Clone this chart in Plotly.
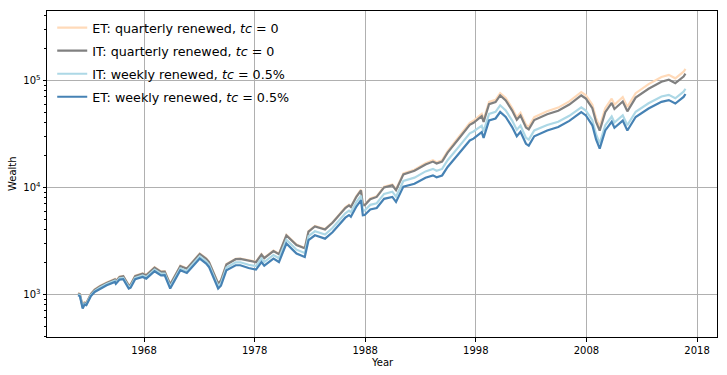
import plotly.graph_objects as go

dates = ["1962-01","1962-03","1962-06","1962-08","1962-10",
         "1963-03","1963-07","1964-01","1964-08","1965-05",
         "1965-06","1965-10","1966-02","1966-08","1966-10",
         "1967-03","1967-11","1968-03","1968-12","1969-07",
         "1969-11","1970-05","1970-12","1971-04","1971-11",
         "1973-01","1973-08","1973-11","1974-09","1974-12",
         "1975-06","1976-04","1976-09","1977-06","1978-02",
         "1978-08","1978-11","1979-09","1980-03","1980-11",
         "1981-06","1981-10","1982-07","1982-11","1983-06",
         "1984-05","1985-01","1985-06","1986-03","1986-07",
         "1986-09","1987-03","1987-08","1987-10","1987-12",
         "1988-06","1989-01","1989-09","1990-06","1990-10",
         "1991-06","1992-06","1993-06","1994-02","1994-06",
         "1994-12","1995-06","1996-06","1997-06","1997-10",
         "1998-07","1998-09","1999-03","1999-10","2000-03",
         "2000-09","2001-04","2001-09","2002-01","2002-07",
         "2002-10","2003-04","2003-10","2004-06","2005-06",
         "2006-06","2007-07","2007-12","2008-07","2008-11",
         "2009-03","2009-09","2010-04","2010-07","2011-04",
         "2011-09","2012-06","2013-08","2014-10","2015-06",
         "2016-01","2016-10","2016-12"]

et_quarterly_tc0 = [1029,1008,772,840,830, 1013,1108,1199,1287,1389,
    1332,1462,1485,1215,1237, 1491,1568,1520,1789,1636,
    1646,1244,1599,1853,1751, 2405,2163,2014,1267,1355,
    1913,2148,2158,2066,2013, 2376,2198,2560,2394,3588,
    3146,2909,2711,3894,4347, 4075,4698,5267,6482,6866,
    6623,8266,9520,6898,6922, 7866,8257,10150,10643,9583,
    13480,14570,16768,17914,17178, 17937,21818,29565,40086,41874,
    48560,42935,62920,65835,75976, 68298,55024,45187,49672,38383,
    36877,45284,47940,51515,55610, 63630,77631,72503,59303,44355,
    36978,54849,67343,59130,69762, 56474,75909,92140,107498,112521,
    104434,120435,128177]

it_quarterly_tc0 = [1019,998,764,832,822, 1003,1097,1187,1274,1375,
    1319,1447,1470,1203,1225, 1477,1553,1505,1771,1620,
    1630,1232,1583,1835,1734, 2381,2142,1994,1254,1342,
    1894,2127,2137,2046,1993, 2352,2176,2535,2370,3552,
    3115,2880,2684,3855,4304, 4035,4651,5215,6386,6765,
    6525,8144,9379,6796,6820, 7750,8128,9984,10434,9395,
    13215,14256,16359,17392,16678, 17415,21080,28428,38360,40071,
    46248,40890,59924,62700,72358, 64922,52155,42750,46860,36210,
    34790,42600,45014,48280,51972, 59356,72215,67445,54910,40880,
    33925,50320,61500,54000,63420, 51340,69008,83385,97020,101370,
    94085,108500,115475]

it_weekly_tc05 = [1000,979,750,816,806, 979,1071,1158,1243,1336,
    1281,1406,1421,1164,1185, 1421,1502,1449,1697,1556,
    1562,1175,1508,1747,1650, 2265,2036,1894,1192,1267,
    1777,1987,1989,1885,1834, 2160,1998,2329,2168,3230,
    2826,2609,2427,3485,3880, 3622,4162,4664,5715,6050,
    5833,7267,8338,6039,6061, 6851,7085,8674,9094,8183,
    11470,12312,14084,14870,14260, 14848,17903,23896,31921,33231,
    37720,33350,48614,50776,58443, 52346,42090,34440,37785,29070,
    27930,34050,35821,38250,40992, 46607,56055,52170,42370,31360,
    25760,38080,45920,40320,47040, 38080,50848,61040,70560,73248,
    67984,78400,83440]

et_weekly_tc05 = [980,960,735,800,790, 960,1050,1130,1213,1303,
    1250,1372,1380,1130,1150, 1380,1451,1400,1640,1500,
    1505,1130,1450,1676,1580, 2155,1936,1800,1130,1200,
    1676,1866,1866,1760,1700, 2000,1850,2150,2000,2977,
    2600,2400,2228,3197,3557, 3310,3800,4255,5200,5500,
    5300,6600,7570,5480,5500, 6200,6400,7800,8120,7300,
    10150,10800,12300,12930,12400, 12900,15500,20600,27400,28500,
    32800,29000,42200,44000,50600, 45400,36600,30000,33000,25500,
    24500,30000,31700,34000,36600, 41800,50500,47000,38000,28000,
    23000,34000,41000,36000,42000, 34000,45400,54500,63000,65400,
    60700,70000,74500]

series_names = ["ET: quarterly renewed, <i>tc</i> = 0",
                "IT: quarterly renewed, <i>tc</i> = 0",
                "IT: weekly renewed, <i>tc</i> = 0.5%",
                "ET: weekly renewed, <i>tc</i> = 0.5%"]
series_values = [et_quarterly_tc0, it_quarterly_tc0, it_weekly_tc05, et_weekly_tc05]
series_colors = ["#ffdab9", "#808080", "#add8e6", "#4682b4"]

x_tick_years = ["1968", "1978", "1988", "1998", "2008", "2018"]
y_tick_vals = [1000, 10000, 100000]
y_tick_text = ["10<sup>3</sup>", "10<sup>4</sup>", "10<sup>5</sup>"]

x_dates = [d + "-15" for d in dates]

fig = go.Figure()
for i, (name, vals, col) in enumerate(zip(series_names, series_values, series_colors)):
    fig.add_trace(go.Scatter(x=x_dates, y=vals, mode="lines", name=name,
                             legendgroup=str(i),
                             line=dict(color=col, width=2.2)))

minor_vals = []
for dec in [100, 1000, 10000, 100000]:
    for m in range(2, 10):
        minor_vals.append(m * dec)

font = "DejaVu Sans"
fig.update_layout(
    width=727, height=375,
    margin=dict(l=47, r=10, t=11, b=38, autoexpand=False),
    paper_bgcolor="white", plot_bgcolor="white",
    font=dict(family=font, size=10, color="black"),
    showlegend=True,
    legend=dict(x=0.0078, y=0.994, xanchor="left", yanchor="top",
                bgcolor="rgba(0,0,0,0)", borderwidth=0,
                font=dict(family=font, size=12.7, color="black"),
                traceorder="grouped", tracegroupgap=3.5),
    xaxis=dict(type="date", automargin=False,
               range=["1959-03-25", "2019-10-23"],
               tickvals=[y + "-01-01" for y in x_tick_years],
               ticktext=x_tick_years,
               showgrid=True, gridcolor="#b0b0b0", gridwidth=0.8,
               showline=True, linecolor="black", linewidth=1, mirror=True,
               ticks="outside", ticklen=3.5, tickcolor="black",
               zeroline=False),
    yaxis=dict(type="log", automargin=False,
               range=[2.600, 5.6486],
               tickvals=y_tick_vals, ticktext=y_tick_text,
               showgrid=True, gridcolor="#b0b0b0", gridwidth=0.8,
               showline=True, linecolor="black", linewidth=1, mirror=True,
               ticks="outside", ticklen=3.5, tickcolor="black",
               minor=dict(tickvals=minor_vals, ticks="outside", ticklen=2,
                          tickcolor="black", showgrid=False),
               zeroline=False),
    annotations=[
        dict(text="Year", xref="paper", yref="paper", x=0.5, y=0,
             xanchor="center", yanchor="middle", yshift=-25, showarrow=False,
             font=dict(family=font, size=10, color="black")),
        dict(text="Wealth", xref="paper", yref="paper", x=0, y=0.5,
             xanchor="center", yanchor="middle", xshift=-35, textangle=-90,
             showarrow=False, font=dict(family=font, size=10, color="black")),
    ],
)

fig.write_html("out.html", config={"displayModeBar": False},
               post_script="document.body.style.margin='0';")
